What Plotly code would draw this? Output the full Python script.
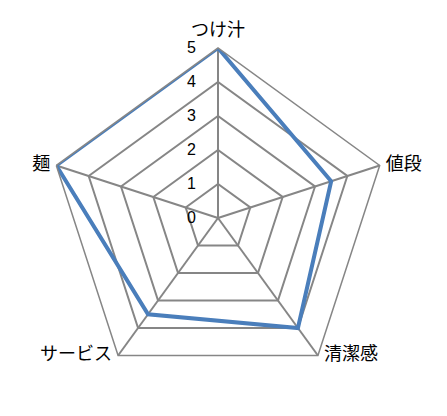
import plotly.graph_objects as go

categories = ["つけ汁", "値段", "清潔感", "サービス", "麺"]
scores = [5, 3.5, 4, 3.5, 5]
radial_ticks = [0, 1, 2, 3, 4, 5]
label_positions = ["top center", "middle right", "middle right", "middle left", "middle left"]

grid_gray = "#868686"
r_max = radial_ticks[-1]

fig = go.Figure()
fig.add_trace(go.Scatterpolar(
    r=scores + scores[:1],
    theta=categories + categories[:1],
    mode="lines",
    line=dict(color="#4a7ebb", width=4),
    showlegend=False,
    hoverinfo="skip",
))

# category labels placed beside each outer vertex, like Excel does
# (invisible markers only give the text some gap from the vertex)
fig.add_trace(go.Scatterpolar(
    r=[r_max] * len(categories),
    theta=categories,
    mode="markers+text",
    text=categories,
    textposition=label_positions,
    marker=dict(size=[10, 8, 8, 8, 8], opacity=0),
    textfont=dict(family="Noto Sans CJK JP", size=18, color="black"),
    cliponaxis=False,
    showlegend=False,
    hoverinfo="skip",
))

fig.update_layout(
    width=447,
    height=416,
    margin=dict(l=40, r=67, t=40, b=36),
    paper_bgcolor="white",
    font=dict(family="Noto Sans CJK JP", size=18, color="black"),
    polar=dict(
        bgcolor="white",
        gridshape="linear",
        radialaxis=dict(
            range=[0, r_max],
            tickvals=radial_ticks,
            angle=90,
            tickangle=90,
            side="counterclockwise",
            ticks="outside",
            ticklen=16,
            tickcolor="rgba(255,255,255,0)",
            showline=False,
            gridcolor=grid_gray,
            gridwidth=1.5,
            tickfont=dict(family="Liberation Sans", size=16),
        ),
        angularaxis=dict(
            rotation=90,
            direction="clockwise",
            ticks="",
            showticklabels=False,
            showline=True,
            linecolor=grid_gray,
            linewidth=1.5,
            gridcolor=grid_gray,
            gridwidth=1.5,
        ),
    ),
)

fig.write_html("out.html")
